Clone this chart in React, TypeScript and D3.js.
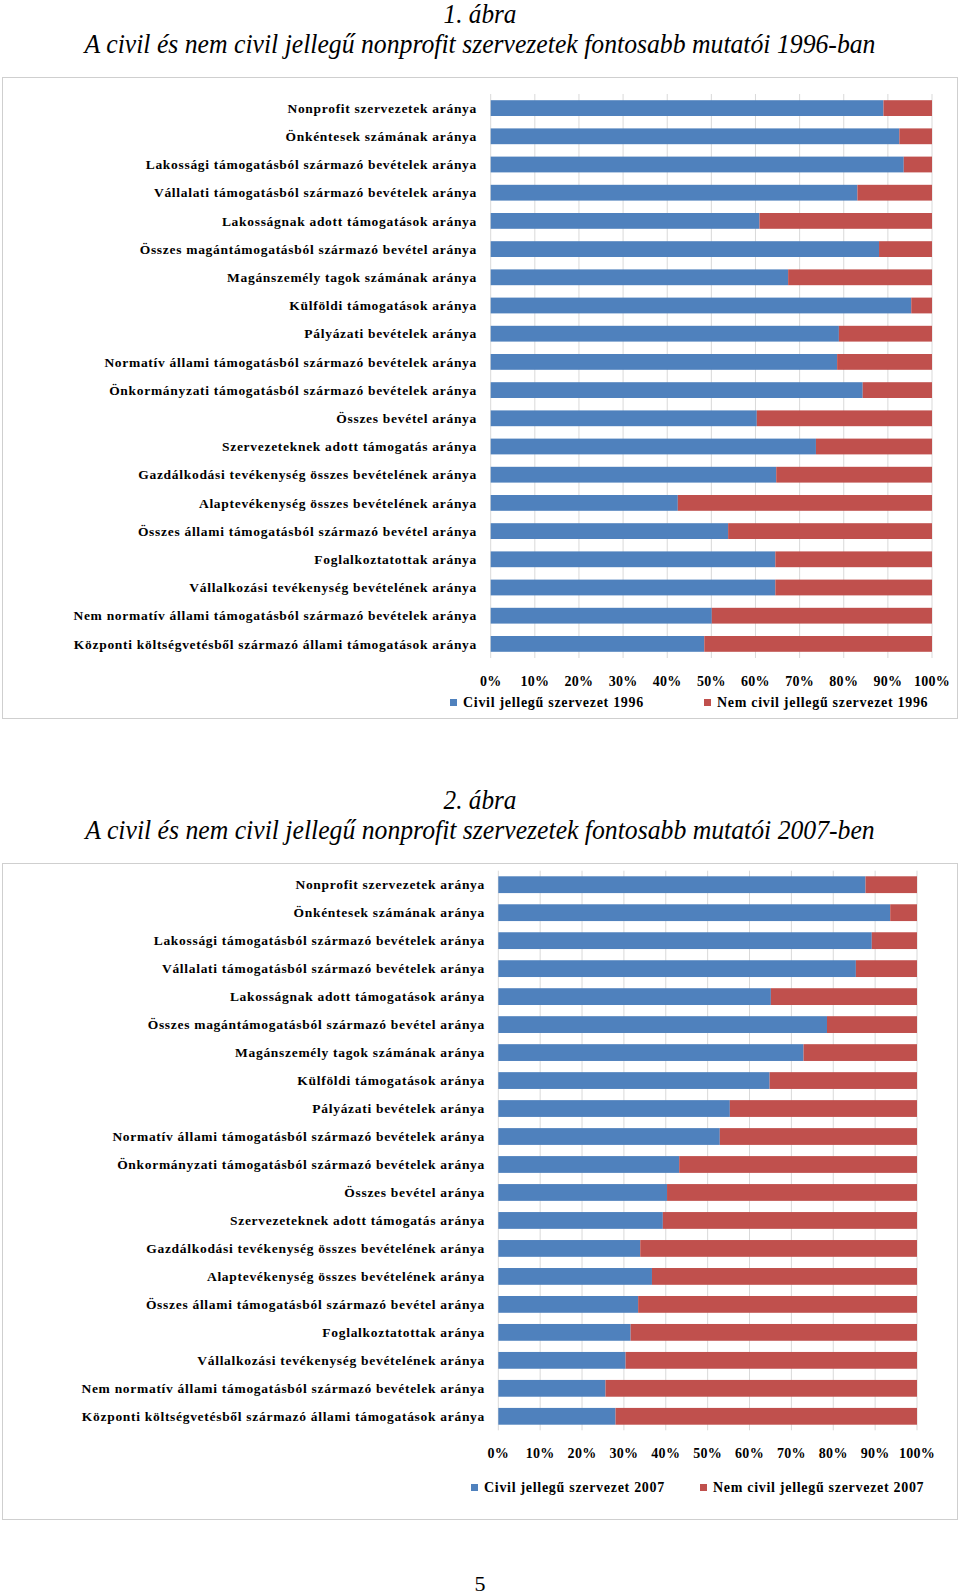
import React from 'react';
import * as d3 from 'd3';

const categories = [
  "Nonprofit szervezetek aránya",
  "Önkéntesek számának aránya",
  "Lakossági támogatásból származó bevételek aránya",
  "Vállalati támogatásból származó bevételek aránya",
  "Lakosságnak adott támogatások aránya",
  "Összes magántámogatásból származó bevétel aránya",
  "Magánszemély tagok számának aránya",
  "Külföldi támogatások aránya",
  "Pályázati bevételek aránya",
  "Normatív állami támogatásból származó bevételek aránya",
  "Önkormányzati támogatásból származó bevételek aránya",
  "Összes bevétel aránya",
  "Szervezeteknek adott támogatás aránya",
  "Gazdálkodási tevékenység összes bevételének aránya",
  "Alaptevékenység összes bevételének aránya",
  "Összes állami támogatásból származó bevétel aránya",
  "Foglalkoztatottak aránya",
  "Vállalkozási tevékenység bevételének aránya",
  "Nem normatív állami támogatásból származó bevételek aránya",
  "Központi költségvetésből származó állami támogatások aránya",
];

const civil1996 = [89.0, 92.6, 93.6, 83.1, 60.9, 88.0, 67.4, 95.3, 78.9, 78.5, 84.3, 60.3, 73.7, 64.7, 42.4, 53.8, 64.5, 64.5, 50.1, 48.4];
const nonCivil1996 = [11.0, 7.4, 6.4, 16.9, 39.1, 12.0, 32.6, 4.7, 21.1, 21.5, 15.7, 39.7, 26.3, 35.3, 57.6, 46.2, 35.5, 35.5, 49.9, 51.6];

const civil2007 = [87.7, 93.6, 89.2, 85.4, 65.1, 78.5, 72.9, 64.8, 55.3, 52.9, 43.2, 40.3, 39.3, 33.9, 36.7, 33.4, 31.6, 30.4, 25.6, 28.0];
const nonCivil2007 = [12.3, 6.4, 10.8, 14.6, 34.9, 21.5, 27.1, 35.2, 44.7, 47.1, 56.8, 59.7, 60.7, 66.1, 63.3, 66.6, 68.4, 69.6, 74.4, 72.0];

const tickValues = [0, 10, 20, 30, 40, 50, 60, 70, 80, 90, 100];
const tickLabels = ["0%", "10%", "20%", "30%", "40%", "50%", "60%", "70%", "80%", "90%", "100%"];

const BLUE = "#4F81BD";
const RED = "#C0504D";
const GRID = "#d9d9d9";
const FONT = "'Liberation Serif', 'Times New Roman', serif";

type ChartProps = {
  civil: number[];
  nonCivil: number[];
  legendCivil: string;
  legendNon: string;
  box: { x: number; y: number; w: number; h: number };
  plot: { x0: number; x1: number; y0: number; y1: number };
  padding: number;
  labelX: number;
  tickY: number;
  legendY: number;
  legendBlueX: number;
  legendRedX: number;
};

function Chart(p: ChartProps) {
  const x = d3.scaleLinear().domain([0, 100]).range([p.plot.x0, p.plot.x1]);
  const y = d3.scaleBand<string>().domain(categories).range([p.plot.y0, p.plot.y1]).paddingInner(p.padding).paddingOuter(p.padding / 2);
  const stack = d3.stack<any>().keys(["civil", "non"]);
  const rows = categories.map((c, i) => ({ cat: c, civil: p.civil[i], non: p.nonCivil[i] }));
  const series = stack(rows);
  const colors = [BLUE, RED];
  const sq = 7;
  return (
    <g>
      <rect x={p.box.x + 0.5} y={p.box.y + 0.5} width={p.box.w} height={p.box.h} fill="#fff" stroke="#cfcfcf" strokeWidth={1} />
      {tickValues.map((t) => (
        <line key={t} x1={x(t)} x2={x(t)} y1={p.plot.y0} y2={p.plot.y1} stroke={GRID} strokeWidth={1} />
      ))}
      {series.map((s, si) => (
        <g key={si} fill={colors[si]}>
          {s.map((d: any, i: number) => (
            <rect key={i} x={x(d[0])} y={y(categories[i])} width={x(d[1]) - x(d[0])} height={y.bandwidth()} />
          ))}
        </g>
      ))}
      {categories.map((c) => (
        <text key={c} x={p.labelX} y={(y(c) as number) + y.bandwidth() / 2} dy="0.35em" textAnchor="end"
          fontFamily={FONT} fontWeight="bold" fontSize={13.5} letterSpacing={0.7} fill="#000">{c}</text>
      ))}
      {tickValues.map((t, i) => (
        <text key={t} x={x(t)} y={p.tickY} dy="0.35em" textAnchor="middle" fontFamily={FONT} fontWeight="bold" fontSize={14} letterSpacing={0.3} fill="#000">{tickLabels[i]}</text>
      ))}
      <rect x={p.legendBlueX} y={p.legendY - sq / 2} width={sq} height={sq} fill={BLUE} />
      <text x={p.legendBlueX + sq + 6} y={p.legendY} dy="0.35em" fontFamily={FONT} fontWeight="bold" fontSize={14} letterSpacing={0.7} fill="#000">{p.legendCivil}</text>
      <rect x={p.legendRedX} y={p.legendY - sq / 2} width={sq} height={sq} fill={RED} />
      <text x={p.legendRedX + sq + 6} y={p.legendY} dy="0.35em" fontFamily={FONT} fontWeight="bold" fontSize={14} letterSpacing={0.7} fill="#000">{p.legendNon}</text>
    </g>
  );
}

function Title({ y, text, size }: { y: number; text: string; size: number }) {
  return (
    <g transform={`translate(480,${y}) scale(0.935,1)`}>
      <text x={0} y={0} textAnchor="middle" fontFamily={FONT} fontStyle="italic" fontSize={size} fill="#000">{text}</text>
    </g>
  );
}

export default function App() {
  return (
    <svg width={960} height={1596} style={{ position: 'absolute', left: 0, top: 0, background: '#fff' }}>
      <rect x={0} y={0} width={960} height={1596} fill="#fff" />
      <Title y={23} text="1. ábra" size={27} />
      <Title y={53} text="A civil és nem civil jellegű nonprofit szervezetek fontosabb mutatói 1996-ban" size={27.5} />
      <Chart
        civil={civil1996} nonCivil={nonCivil1996}
        legendCivil="Civil jellegű szervezet 1996" legendNon="Nem civil jellegű szervezet 1996"
        box={{ x: 2, y: 77, w: 955, h: 641 }}
        plot={{ x0: 490.7, x1: 932, y0: 94, y1: 658 }}
        padding={0.44} labelX={477} tickY={681} legendY={702.5}
        legendBlueX={450} legendRedX={704}
      />
      <Title y={809} text="2. ábra" size={27} />
      <Title y={839} text="A civil és nem civil jellegű nonprofit szervezetek fontosabb mutatói 2007-ben" size={27.5} />
      <Chart
        civil={civil2007} nonCivil={nonCivil2007}
        legendCivil="Civil jellegű szervezet 2007" legendNon="Nem civil jellegű szervezet 2007"
        box={{ x: 2, y: 863, w: 955, h: 656 }}
        plot={{ x0: 498.3, x1: 917, y0: 870.7, y1: 1430.3 }}
        padding={0.4} labelX={485} tickY={1453} legendY={1487.5}
        legendBlueX={471} legendRedX={700}
      />
      <text x={480} y={1591} textAnchor="middle" fontFamily={FONT} fontSize={22} fill="#000">5</text>
    </svg>
  );
}
